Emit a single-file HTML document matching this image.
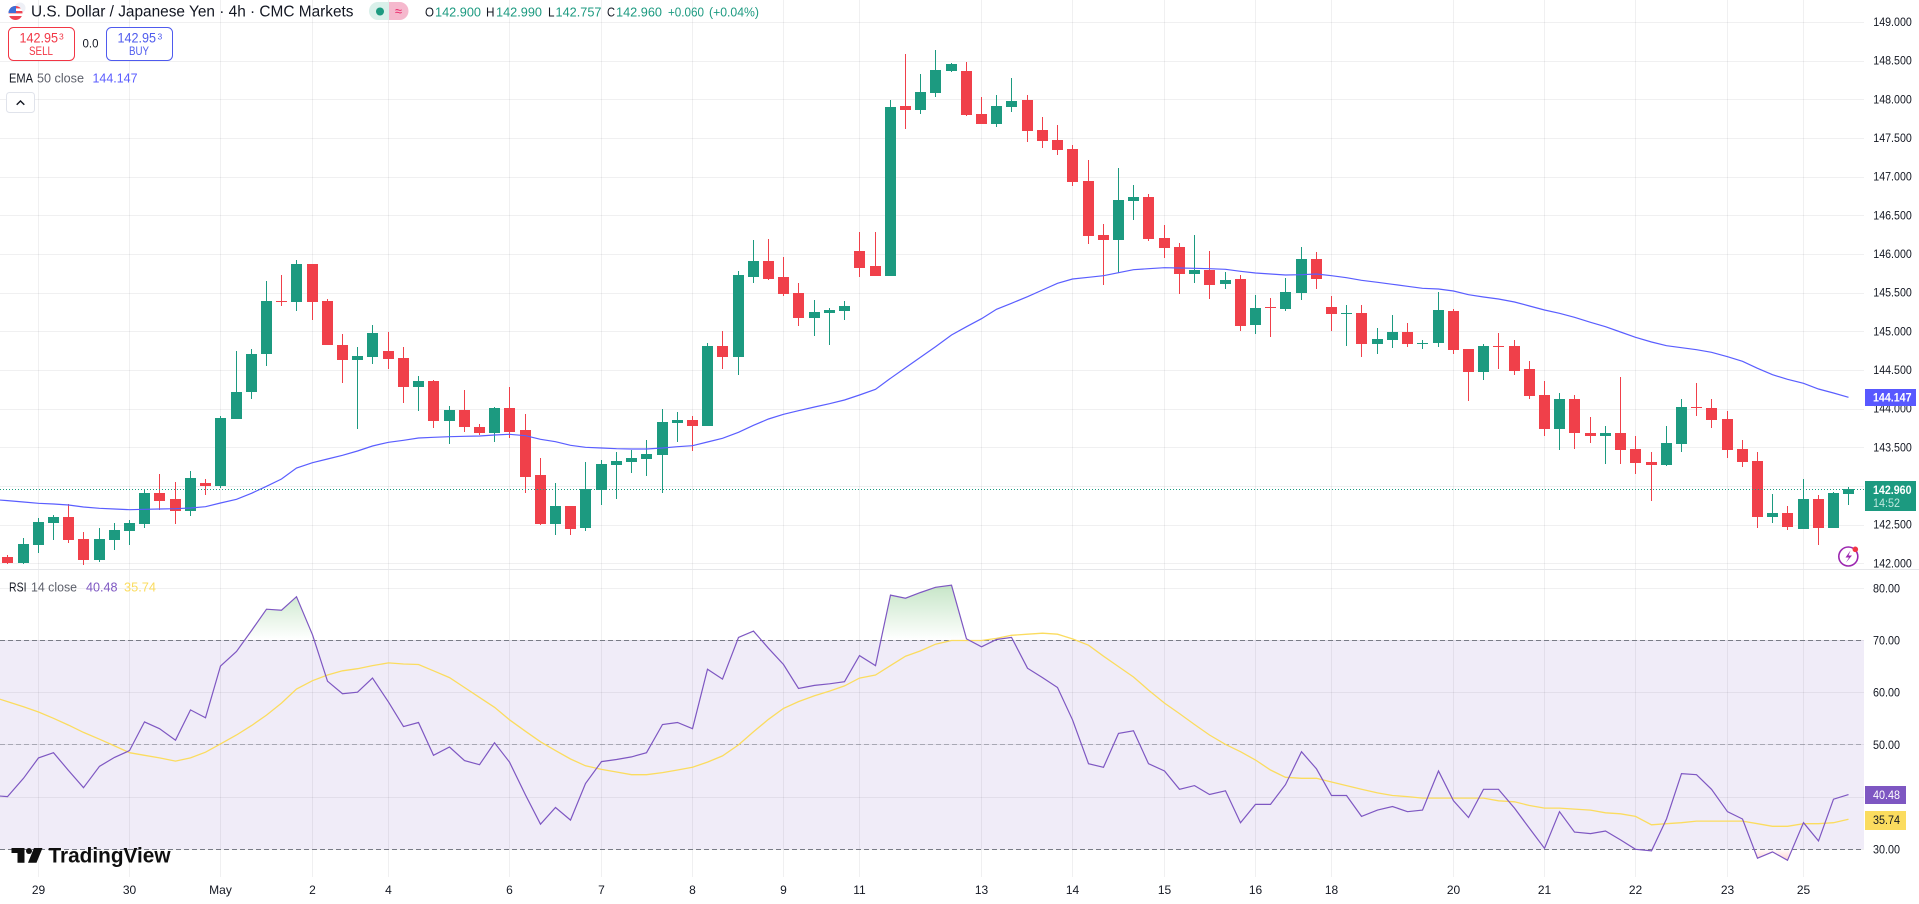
<!DOCTYPE html>
<html lang="en">
<head>
<meta charset="utf-8">
<title>USD/JPY 4h chart</title>
<style>
html,body{margin:0;padding:0;background:#fff;width:1919px;height:904px;overflow:hidden}
svg{display:block;font-family:"Liberation Sans",sans-serif}
text{dominant-baseline:central}
</style>
</head>
<body>
<svg id="chart" xmlns="http://www.w3.org/2000/svg" width="1919" height="904" viewBox="0 0 1919 904">
  <defs>
    <linearGradient id="obGrad" gradientUnits="userSpaceOnUse" x1="0" y1="585" x2="0" y2="640">
      <stop offset="0" stop-color="#4caf50" stop-opacity="0.32"/>
      <stop offset="1" stop-color="#4caf50" stop-opacity="0"/>
    </linearGradient>
    <linearGradient id="osGrad" gradientUnits="userSpaceOnUse" x1="0" y1="849" x2="0" y2="862">
      <stop offset="0" stop-color="#ff5252" stop-opacity="0"/>
      <stop offset="1" stop-color="#ff5252" stop-opacity="0.3"/>
    </linearGradient>
    <clipPath id="flagClip"><circle cx="15.5" cy="13" r="7"/></clipPath>
    <clipPath id="plotClip"><rect x="0" y="0" width="1864" height="877"/></clipPath>
  </defs>
  <rect x="0" y="0" width="1919" height="904" fill="#ffffff"/>
  <rect id="rsiBand" x="0" y="640" width="1864" height="209" fill="#f0ecf8"/>
  <g id="gridLayer"></g>
  <rect x="0" y="569" width="1919" height="1" fill="#e6e7ea"/>
  <g id="rsiLevels"></g>
  <g id="candleLayer" clip-path="url(#plotClip)"></g>
  <g id="lineLayer" clip-path="url(#plotClip)"></g>
  <line id="lastLine" x1="0" x2="1864" stroke="#1c9a80" stroke-width="1" stroke-dasharray="1 2"/>

  <g id="axisLayer"></g>

  <!-- last price and indicator tags -->
  <g>
    <rect x="1865" y="389" width="51" height="17" fill="#5858ff"/>
    <text x="1873" y="397.5" font-size="12" font-weight="bold" fill="#ffffff" textLength="38.5" lengthAdjust="spacingAndGlyphs">144.147</text>
  </g>
  <g>
    <rect x="1865" y="481" width="51" height="30" fill="#1c9a80"/>
    <text x="1873" y="490" font-size="12" font-weight="bold" fill="#ffffff" textLength="38.5" lengthAdjust="spacingAndGlyphs">142.960</text>
    <text x="1873" y="503" font-size="12" fill="#bfe8de" textLength="27" lengthAdjust="spacingAndGlyphs">14:52</text>
  </g>
  <g>
    <rect x="1865" y="786" width="41" height="18" fill="#7e57c2"/>
    <text x="1873" y="795" font-size="12" fill="#ffffff" textLength="27" lengthAdjust="spacingAndGlyphs">40.48</text>
  </g>
  <g>
    <rect x="1865" y="811" width="41" height="19" fill="#fbdc5f"/>
    <text x="1873" y="820" font-size="12" fill="#131722" textLength="27" lengthAdjust="spacingAndGlyphs">35.74</text>
  </g>

  <!-- header -->
  <g>
    <circle cx="20" cy="8" r="5.5" fill="#eef0f6"/>
    <g clip-path="url(#flagClip)">
      <rect x="8" y="6" width="15" height="14" fill="#ffffff"/>
      <rect x="8" y="6" width="15" height="2.4" fill="#ef4453"/>
      <rect x="8" y="11" width="15" height="2.4" fill="#ef4453"/>
      <rect x="8" y="16" width="15" height="4" fill="#ef4453"/>
      <rect x="8" y="6" width="8" height="7" fill="#3c6fd8"/>
    </g>
  </g>
  <text x="31" y="12" font-size="15.5" fill="#131722" textLength="322.5" lengthAdjust="spacingAndGlyphs">U.S. Dollar / Japanese Yen · 4h · CMC Markets</text>
  <g>
    <path d="M389 2H378a9 9 0 0 0 0 18h11z" fill="#d9f0ea"/>
    <path d="M389 2h10.5a9 9 0 0 1 0 18H389z" fill="#f5b8cd"/>
    <circle cx="380" cy="11.5" r="4" fill="#1c9a80"/>
    <text x="398.5" y="11" font-size="13" fill="#e91e63" text-anchor="middle">≈</text>
  </g>
  <g font-size="13">
    <text x="425" y="12" fill="#131722" textLength="9" lengthAdjust="spacingAndGlyphs">O</text>
    <text x="435" y="12" fill="#1c9a80" textLength="46" lengthAdjust="spacingAndGlyphs">142.900</text>
    <text x="486" y="12" fill="#131722" textLength="8.5" lengthAdjust="spacingAndGlyphs">H</text>
    <text x="496" y="12" fill="#1c9a80" textLength="46" lengthAdjust="spacingAndGlyphs">142.990</text>
    <text x="548" y="12" fill="#131722" textLength="6.5" lengthAdjust="spacingAndGlyphs">L</text>
    <text x="555.5" y="12" fill="#1c9a80" textLength="46" lengthAdjust="spacingAndGlyphs">142.757</text>
    <text x="607" y="12" fill="#131722" textLength="8" lengthAdjust="spacingAndGlyphs">C</text>
    <text x="616" y="12" fill="#1c9a80" textLength="46" lengthAdjust="spacingAndGlyphs">142.960</text>
    <text x="668" y="12" fill="#1c9a80" textLength="36" lengthAdjust="spacingAndGlyphs">+0.060</text>
    <text x="709" y="12" fill="#1c9a80" textLength="50" lengthAdjust="spacingAndGlyphs">(+0.04%)</text>
  </g>
  <g>
    <rect x="8.5" y="27.5" width="66" height="33" rx="5" fill="#ffffff" stroke="#f23645"/>
    <text x="19.5" y="38" font-size="13.5" fill="#f23645" textLength="38.5" lengthAdjust="spacingAndGlyphs">142.95</text>
    <text x="59" y="36.5" font-size="8.5" fill="#f23645">3</text>
    <text x="41" y="52" font-size="11.5" fill="#f23645" text-anchor="middle" textLength="24" lengthAdjust="spacingAndGlyphs">SELL</text>
  </g>
  <text x="90.5" y="44.7" font-size="11.5" fill="#131722" text-anchor="middle">0.0</text>
  <g>
    <rect x="106.5" y="27.5" width="66" height="33" rx="5" fill="#ffffff" stroke="#4f5bee"/>
    <text x="117.5" y="38" font-size="13.5" fill="#4f5bee" textLength="38.5" lengthAdjust="spacingAndGlyphs">142.95</text>
    <text x="157.5" y="36.5" font-size="8.5" fill="#4f5bee">3</text>
    <text x="139" y="52" font-size="11.5" fill="#4f5bee" text-anchor="middle" textLength="20" lengthAdjust="spacingAndGlyphs">BUY</text>
  </g>
  <g font-size="13">
    <text x="9" y="78" fill="#131722" textLength="24" lengthAdjust="spacingAndGlyphs">EMA</text>
    <text x="37" y="78" fill="#5d606b" textLength="47" lengthAdjust="spacingAndGlyphs">50 close</text>
    <text x="92.5" y="78" fill="#5a5cff" textLength="45" lengthAdjust="spacingAndGlyphs">144.147</text>
  </g>
  <g>
    <rect x="6.5" y="92.5" width="28" height="20" rx="3" fill="#ffffff" stroke="#e0e3eb"/>
    <path d="M16.7 104.7 L20.5 101 L24.3 104.7" fill="none" stroke="#131722" stroke-width="1.4"/>
  </g>
  <g font-size="13">
    <text x="9" y="587" fill="#131722" textLength="17.5" lengthAdjust="spacingAndGlyphs">RSI</text>
    <text x="31" y="587" fill="#5d606b" textLength="46" lengthAdjust="spacingAndGlyphs">14 close</text>
    <text x="86" y="587" fill="#7e57c2" textLength="31.5" lengthAdjust="spacingAndGlyphs">40.48</text>
    <text x="124" y="587" fill="#fbdc5f" textLength="32" lengthAdjust="spacingAndGlyphs">35.74</text>
  </g>
  <g fill="#0f0f0f">
    <path d="M11.5 848H24.5V862.7H17.5V853H11.5z"/>
    <circle cx="29" cy="851" r="3"/>
    <path d="M34 848H42.5L36.5 862.7H28z"/>
    <text x="48.5" y="856" font-size="21" font-weight="bold" textLength="122" lengthAdjust="spacingAndGlyphs">TradingView</text>
  </g>
  <g>
    <circle cx="1848.3" cy="556.5" r="9.5" fill="#ffffff" stroke="#9c27b0" stroke-width="1.6"/>
    <path d="M1850.5 550.5 L1845.5 557.5 H1849 L1846 562.5 L1852 555.5 H1848.5z" fill="#9c27b0"/>
    <circle cx="1855.3" cy="549.3" r="2.8" fill="#f23645"/>
  </g>
</svg>

<script>
// ---------- chart data ----------
const opens = [
142.081,142.004,142.237,142.521,142.599,142.314,142.043,142.301,142.418,142.508,
142.909,142.832,142.676,143.038,143.000,143.866,144.215,144.707,145.392,145.379,
145.871,145.392,144.823,144.629,144.668,144.745,144.655,144.280,144.357,143.840,
143.982,143.763,143.685,144.008,143.724,143.142,142.508,142.741,142.456,142.948,
143.271,143.310,143.349,143.401,143.814,143.853,143.776,144.810,144.668,145.702,
145.909,145.702,145.496,145.172,145.237,145.263,146.039,145.845,145.715,147.914,
147.862,148.082,148.366,148.366,147.810,147.681,147.901,147.991,147.603,147.474,
147.358,146.944,146.246,146.181,146.685,146.737,146.207,146.090,145.741,145.793,
145.612,145.677,145.082,145.314,145.289,145.496,145.935,145.314,145.224,145.237,
144.836,144.888,144.991,144.836,144.849,145.263,144.771,144.474,144.810,144.810,
144.513,144.176,143.737,144.125,143.685,143.646,143.685,143.478,143.310,143.271,
143.543,144.021,144.008,143.866,143.478,143.323,142.599,142.650,142.444,142.832,
142.456,142.900];
const highs = [
142.107,142.327,142.586,142.625,142.767,142.405,142.456,142.521,142.560,142.961,
143.155,143.051,143.194,143.090,143.905,144.745,144.771,145.651,145.728,145.922,
145.871,145.418,144.965,144.797,145.082,144.991,144.797,144.422,144.370,144.034,
144.241,143.801,144.021,144.280,143.931,143.362,143.038,142.741,143.310,143.336,
143.439,143.465,143.595,143.995,143.957,143.905,144.849,145.004,145.780,146.181,
146.194,145.961,145.625,145.405,145.301,145.392,146.284,146.284,147.991,148.586,
148.328,148.638,148.470,148.483,148.030,148.056,148.276,148.056,147.772,147.668,
147.410,147.215,146.388,147.112,146.892,146.776,146.375,146.142,146.246,146.039,
145.767,145.728,145.470,145.431,145.689,146.090,146.026,145.457,145.340,145.340,
145.043,145.211,145.108,144.888,145.508,145.289,144.771,144.836,144.978,144.888,
144.616,144.357,144.202,144.176,143.892,143.776,144.409,143.646,143.439,143.776,
144.125,144.332,144.125,143.970,143.595,143.439,142.896,142.741,143.090,142.883,
142.922,142.990];
const lows = [
141.991,141.991,142.133,142.301,142.263,141.978,142.017,142.172,142.237,142.456,
142.689,142.508,142.612,142.883,142.974,143.866,144.125,144.551,145.327,145.263,
145.146,144.823,144.332,143.737,144.577,144.513,144.073,143.970,143.750,143.543,
143.698,143.659,143.569,143.620,142.909,142.495,142.366,142.366,142.418,142.754,
142.832,143.168,143.129,142.909,143.569,143.452,143.776,144.513,144.435,145.625,
145.664,145.457,145.069,144.939,144.823,145.146,145.702,145.715,145.715,147.616,
147.810,148.030,148.353,147.784,147.681,147.642,147.836,147.448,147.371,147.280,
146.879,146.129,145.599,145.754,146.440,146.168,145.948,145.483,145.625,145.418,
145.547,145.004,144.965,144.926,145.263,145.405,145.547,145.004,144.810,144.668,
144.707,144.784,144.797,144.771,144.797,144.707,144.099,144.370,144.513,144.435,
144.125,143.646,143.465,143.478,143.556,143.284,143.284,143.155,142.806,143.258,
143.439,143.905,143.750,143.362,143.245,142.456,142.521,142.431,142.444,142.237,
142.456,142.757];
const closes = [
142.004,142.250,142.534,142.599,142.301,142.043,142.314,142.431,142.521,142.909,
142.806,142.676,143.103,143.000,143.879,144.215,144.707,145.392,145.379,145.871,
145.379,144.823,144.629,144.681,144.978,144.642,144.280,144.357,143.840,143.982,
143.763,143.685,144.008,143.698,143.116,142.508,142.741,142.444,142.961,143.284,
143.323,143.362,143.413,143.827,143.853,143.776,144.810,144.668,145.728,145.909,
145.677,145.483,145.172,145.250,145.276,145.327,145.819,145.715,147.901,147.862,
148.095,148.379,148.457,147.797,147.681,147.914,147.978,147.591,147.461,147.345,
146.931,146.233,146.181,146.698,146.737,146.194,146.078,145.741,145.793,145.599,
145.664,145.069,145.301,145.301,145.508,145.935,145.677,145.224,145.237,144.836,
144.901,144.991,144.836,144.849,145.276,144.758,144.474,144.810,144.797,144.487,
144.164,143.737,144.125,143.685,143.646,143.685,143.465,143.297,143.271,143.556,
144.021,144.008,143.853,143.465,143.310,142.599,142.650,142.469,142.832,142.456,
142.909,142.960];
const ema50 = [
142.811,142.793,142.776,142.767,142.754,142.728,142.711,142.702,142.693,142.698,
142.702,142.706,142.715,142.732,142.780,142.828,142.905,142.996,143.090,143.232,
143.301,143.349,143.397,143.452,143.517,143.565,143.591,143.620,143.629,143.637,
143.642,143.646,143.659,143.668,143.650,143.604,143.573,143.526,143.500,143.491,
143.482,143.478,143.478,143.491,143.508,143.521,143.569,143.617,143.694,143.785,
143.866,143.927,143.973,144.021,144.064,144.112,144.176,144.250,144.392,144.530,
144.664,144.801,144.952,145.060,145.163,145.285,145.362,145.448,145.534,145.621,
145.677,145.699,145.719,145.758,145.797,145.810,145.823,145.819,145.815,145.810,
145.802,145.776,145.754,145.741,145.728,145.732,145.741,145.719,145.693,145.660,
145.634,145.608,145.582,145.556,145.547,145.521,145.474,145.444,145.418,145.379,
145.327,145.276,145.233,145.181,145.117,145.060,144.991,144.923,144.862,144.814,
144.788,144.762,144.729,144.672,144.612,144.522,144.439,144.380,144.328,144.254,
144.202,144.147];
const rsi14 = [
40.1,43.6,47.5,48.5,45.1,41.8,45.9,47.6,48.9,54.4,
53.1,50.9,56.7,55.2,65.1,67.9,71.9,76.0,75.8,78.4,
71.1,62.2,59.8,60.1,62.8,58.2,53.5,54.3,48.0,49.6,
47.0,46.2,50.4,46.7,40.4,34.8,38.0,35.6,42.6,46.8,
47.2,47.7,48.5,53.9,54.3,53.1,64.5,62.6,70.6,71.8,
68.5,65.4,60.8,61.4,61.7,62.1,67.1,65.2,78.7,78.1,
79.2,80.2,80.6,70.3,68.8,70.2,70.6,64.7,62.9,61.0,
54.8,46.4,45.7,52.2,52.7,46.4,45.0,41.5,42.2,40.5,
41.2,35.1,38.6,38.6,42.4,48.7,45.4,40.3,40.3,36.3,
37.5,38.2,37.2,37.5,45.0,39.3,36.1,41.5,41.5,37.9,
34.0,30.2,37.2,33.3,33.0,33.5,31.8,30.0,29.7,35.8,
44.5,44.3,41.5,37.2,35.8,28.3,29.5,27.9,35.1,31.6,
39.6,40.48];
const rsiMa = [
58.3,57.3,56.3,55.1,53.8,52.4,51.1,49.8,48.5,48.0,
47.5,46.9,47.5,48.6,50.2,51.9,53.7,55.7,58.0,60.7,
62.3,63.4,64.2,64.6,65.2,65.7,65.5,65.4,64.2,62.9,
61.0,59.1,57.2,54.8,52.6,50.6,48.9,47.3,46.0,45.3,
44.8,44.3,44.3,44.7,45.2,45.7,46.7,47.9,50.0,52.5,
54.9,57.0,58.3,59.4,60.3,61.3,62.8,63.4,65.2,67.0,
68.0,69.3,70.0,70.0,70.0,70.4,71.0,71.2,71.4,71.2,
70.3,69.1,67.0,65.0,63.0,60.5,58.0,56.0,53.9,51.9,
50.1,48.7,47.1,45.2,43.8,43.6,43.6,42.9,42.2,41.5,
40.8,40.3,40.1,39.8,39.8,39.8,39.8,39.8,39.3,39.1,
38.4,37.9,37.9,37.7,37.5,37.0,36.8,36.3,34.7,34.9,
35.1,35.4,35.4,35.4,35.4,34.9,34.4,34.4,34.9,34.9,
35.1,35.74];
const emaLead = 142.825;
const rsiLead = 40.3;
const rsiMaLead = 59.2;
const lastPrice = 142.960;
const priceTicks = [142,142.5,143,143.5,144,144.5,145,145.5,146,146.5,147,147.5,148,148.5,149];
const rsiTicks = [30,40,50,60,70,80];
const rsiDashedLevels = [30,50,70];
const timeLabels = ["29","30","May","2","4","6","7","8","9","11","13","14","15","16","18","20","21","22","23","25"];
const timeLabelBars = [2,8,14,20,25,33,39,45,51,56,64,70,76,82,87,95,101,107,113,118];

// ---------- axis functions ----------
const NS = "http://www.w3.org/2000/svg";
function barX(i){ return Math.floor(7.8 + 15.215 * i); }
function priceY(p){ return 563.3 - (p - 142) * 77.33; }
function rsiY(v){ return 849.3 - (v - 30) * 5.22; }
function mk(tag, parent){
  const el = document.createElementNS(NS, tag);
  parent.appendChild(el);
  return el;
}
const GRID = "rgba(42,46,57,0.07)";
const UP = "#1c9a80", DOWN = "#f0404a";
const gridLayer = document.getElementById("gridLayer");
const candleLayer = document.getElementById("candleLayer");
const lineLayer = document.getElementById("lineLayer");
const axisLayer = document.getElementById("axisLayer");
const levelLayer = document.getElementById("rsiLevels");

// grid
priceTicks.forEach(function(t){
  const r = mk("rect", gridLayer);
  
  
  r.setAttribute("x", 0);
  r.setAttribute("y", Math.floor(priceY(t) + 0.5));
  r.setAttribute("width", 1864);
  r.setAttribute("height", 1);
  r.setAttribute("fill", GRID);
});
rsiTicks.forEach(function(t){
  const r = mk("rect", gridLayer);
  
  
  r.setAttribute("x", 0);
  r.setAttribute("y", Math.floor(rsiY(t)));
  r.setAttribute("width", 1864);
  r.setAttribute("height", 1);
  r.setAttribute("fill", GRID);
});
timeLabelBars.forEach(function(b){
  const r = mk("rect", gridLayer);
  
  
  r.setAttribute("x", barX(b));
  r.setAttribute("y", 0);
  r.setAttribute("width", 1);
  r.setAttribute("height", 877);
  r.setAttribute("fill", GRID);
});

// RSI dashed levels
rsiDashedLevels.forEach(function(v){
  const l = mk("line", levelLayer);
  
  
  const y = Math.floor(rsiY(v)) + 0.5;
  l.setAttribute("x1", 0);
  l.setAttribute("x2", 1864);
  l.setAttribute("y1", y);
  l.setAttribute("y2", y);
  l.setAttribute("stroke", "#787b86");
  l.setAttribute("stroke-width", 1);
  l.setAttribute("stroke-dasharray", "5 3");
  l.setAttribute("stroke-opacity", v === 50 ? 0.55 : 1);
});

// candles
opens.forEach(function(o, i){
  const c = closes[i], up = c >= o, col = barX(i);
  const color = up ? UP : DOWN;
  const hiY = Math.round(priceY(highs[i])), loY = Math.round(priceY(lows[i]));
  const top = Math.round(priceY(Math.max(o, c))), bot = Math.round(priceY(Math.min(o, c)));
  const wick = mk("rect", candleLayer);
  
  
  wick.setAttribute("x", col);
  wick.setAttribute("y", hiY);
  wick.setAttribute("width", 1);
  wick.setAttribute("height", Math.max(loY - hiY, 1));
  wick.setAttribute("fill", color);
  const body = mk("rect", candleLayer);
  
  
  body.setAttribute("x", col - 5);
  body.setAttribute("y", top);
  body.setAttribute("width", 11);
  body.setAttribute("height", Math.max(bot - top, 1));
  body.setAttribute("fill", color);
});

// line builders
function pointsOf(values, lead, yFn){
  const pts = [[barX(-1) + 0.5, yFn(lead)]];
  values.forEach(function(v, i){ pts.push([barX(i) + 0.5, yFn(v)]); });
  return pts;
}
function pathOf(pts){
  return pts.map(function(p, i){ return (i ? "L" : "M") + p[0].toFixed(1) + " " + p[1].toFixed(1); }).join("");
}

// threshold fills on RSI
function thresholdFill(values, level, isAbove, fill){
  const d = [];
  for (let i = 0; i < values.length; i++) {
    const a = values[i], inside = isAbove ? a > level : a < level;
    if (!inside) continue;
    let start = i, end = i;
    while (end + 1 < values.length && (isAbove ? values[end + 1] > level : values[end + 1] < level)) end++;
    const ly = rsiY(level);
    let s = "";
    if (start > 0) {
      const t = (level - values[start - 1]) / (values[start] - values[start - 1]);
      const x0 = barX(start - 1) + 0.5, x1 = barX(start) + 0.5;
      s += "M" + (x0 + (x1 - x0) * t).toFixed(1) + " " + ly.toFixed(1);
    } else {
      s += "M" + (barX(start) + 0.5) + " " + ly.toFixed(1);
    }
    for (let k = start; k <= end; k++) s += "L" + (barX(k) + 0.5) + " " + rsiY(values[k]).toFixed(1);
    if (end + 1 < values.length) {
      const t = (level - values[end]) / (values[end + 1] - values[end]);
      const x0 = barX(end) + 0.5, x1 = barX(end + 1) + 0.5;
      s += "L" + (x0 + (x1 - x0) * t).toFixed(1) + " " + ly.toFixed(1);
    } else {
      s += "L" + (barX(end) + 0.5) + " " + ly.toFixed(1);
    }
    d.push(s + "Z");
    i = end;
  }
  const p = mk("path", lineLayer);
  
  
  p.setAttribute("d", d.join(""));
  p.setAttribute("fill", fill);
}
thresholdFill(rsi14, 70, true, "url(#obGrad)");
thresholdFill(rsi14, 30, false, "url(#osGrad)");

const emaPath = mk("path", lineLayer);


emaPath.setAttribute("d", pathOf(pointsOf(ema50, emaLead, priceY)));
emaPath.setAttribute("fill", "none");
emaPath.setAttribute("stroke", "#5a5eff");
emaPath.setAttribute("stroke-width", 1.2);

const maPath = mk("path", lineLayer);


maPath.setAttribute("d", pathOf(pointsOf(rsiMa, rsiMaLead, rsiY)));
maPath.setAttribute("fill", "none");
maPath.setAttribute("stroke", "#fbdc5f");
maPath.setAttribute("stroke-width", 1.3);

const rsiPath = mk("path", lineLayer);


rsiPath.setAttribute("d", pathOf(pointsOf(rsi14, rsiLead, rsiY)));
rsiPath.setAttribute("fill", "none");
rsiPath.setAttribute("stroke", "#7e57c2");
rsiPath.setAttribute("stroke-width", 1.2);

// last price line
const lastLine = document.getElementById("lastLine");
lastLine.setAttribute("y1", Math.floor(priceY(lastPrice)) + 0.5);
lastLine.setAttribute("y2", Math.floor(priceY(lastPrice)) + 0.5);

// axis labels
priceTicks.forEach(function(t){
  const el = mk("text", axisLayer);
  
  
  el.setAttribute("x", 1873.3);
  el.setAttribute("y", priceY(t));
  el.setAttribute("font-size", 12);
  el.setAttribute("fill", "#131722");
  el.setAttribute("textLength", 38.5);
  el.setAttribute("lengthAdjust", "spacingAndGlyphs");
  el.textContent = t.toFixed(3);
});
rsiTicks.forEach(function(t){
  const el = mk("text", axisLayer);
  
  
  el.setAttribute("x", 1873);
  el.setAttribute("y", rsiY(t));
  el.setAttribute("font-size", 12);
  el.setAttribute("fill", "#131722");
  el.setAttribute("textLength", 27);
  el.setAttribute("lengthAdjust", "spacingAndGlyphs");
  el.textContent = t.toFixed(2);
});
timeLabels.forEach(function(label, k){
  const el = mk("text", axisLayer);
  
  
  el.setAttribute("x", barX(timeLabelBars[k]) + 0.5);
  el.setAttribute("y", 890);
  el.setAttribute("font-size", 12);
  el.setAttribute("fill", "#131722");
  el.setAttribute("text-anchor", "middle");
  el.textContent = label;
});
</script>
</body>
</html>
